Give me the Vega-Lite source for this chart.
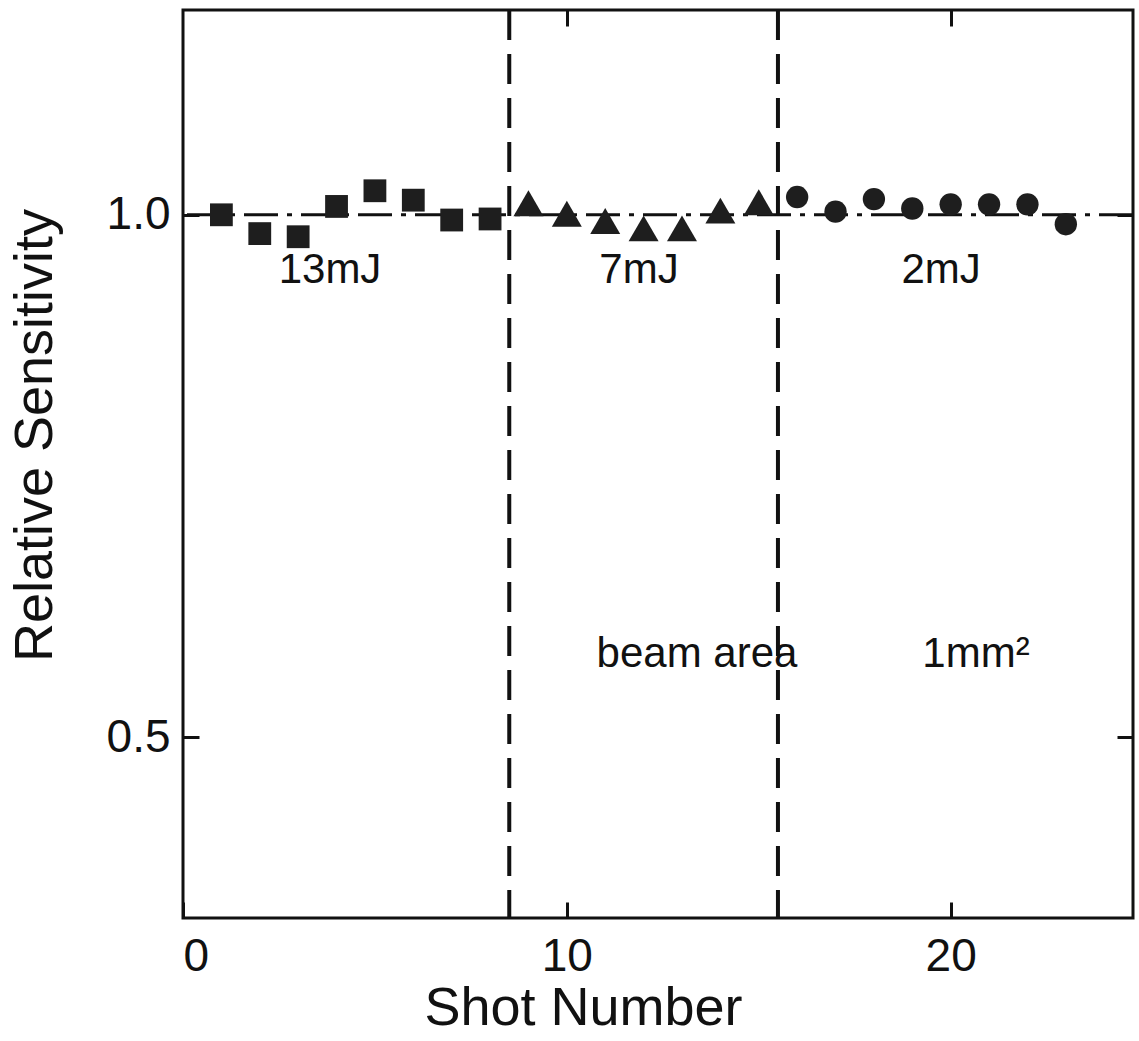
{
  "$schema": "https://vega.github.io/schema/vega-lite/v6.json",
  "width": 950,
  "height": 908,
  "autosize": {"type": "none"},
  "padding": {"left": 183, "top": 10, "right": 6, "bottom": 123},
  "background": "white",
  "config": {
    "view": {"stroke": "#111", "strokeWidth": 3},
    "font": "Liberation Sans",
    "axis": {"domain": false, "grid": false, "tickColor": "#111", "tickWidth": 3, "labelColor": "#111", "titleColor": "#111", "labelFont": "Liberation Sans", "titleFont": "Liberation Sans", "titleFontWeight": "normal"}
  },
  "datasets": {
    "pts": [
      {"shot": 1, "sens": 1.000, "energy": "13mJ"},
      {"shot": 2, "sens": 0.982, "energy": "13mJ"},
      {"shot": 3, "sens": 0.979, "energy": "13mJ"},
      {"shot": 4, "sens": 1.008, "energy": "13mJ"},
      {"shot": 5, "sens": 1.023, "energy": "13mJ"},
      {"shot": 6, "sens": 1.014, "energy": "13mJ"},
      {"shot": 7, "sens": 0.995, "energy": "13mJ"},
      {"shot": 8, "sens": 0.996, "energy": "13mJ"},
      {"shot": 9, "sens": 1.011, "energy": "7mJ"},
      {"shot": 10, "sens": 1.001, "energy": "7mJ"},
      {"shot": 11, "sens": 0.994, "energy": "7mJ"},
      {"shot": 12, "sens": 0.987, "energy": "7mJ"},
      {"shot": 13, "sens": 0.987, "energy": "7mJ"},
      {"shot": 14, "sens": 1.004, "energy": "7mJ"},
      {"shot": 15, "sens": 1.012, "energy": "7mJ"},
      {"shot": 16, "sens": 1.017, "energy": "2mJ"},
      {"shot": 17, "sens": 1.003, "energy": "2mJ"},
      {"shot": 18, "sens": 1.015, "energy": "2mJ"},
      {"shot": 19, "sens": 1.006, "energy": "2mJ"},
      {"shot": 20, "sens": 1.010, "energy": "2mJ"},
      {"shot": 21, "sens": 1.010, "energy": "2mJ"},
      {"shot": 22, "sens": 1.010, "energy": "2mJ"},
      {"shot": 23, "sens": 0.991, "energy": "2mJ"}
    ],
    "ref": [{"sens": 1.0}],
    "bounds": [{"shot": 8.5}, {"shot": 15.5}],
    "labels": [
      {"shot": 3.83, "sens": 0.947, "label": "13mJ"},
      {"shot": 11.88, "sens": 0.947, "label": "7mJ"},
      {"shot": 19.75, "sens": 0.947, "label": "2mJ"},
      {"shot": 13.39, "sens": 0.58, "label": "beam area"},
      {"shot": 20.66, "sens": 0.58, "label": "1mm²"}
    ]
  },
  "layer": [
    {
      "data": {"name": "ref"},
      "mark": {"type": "rule", "color": "#111", "strokeWidth": 3, "strokeDash": [34, 9, 5, 9]},
      "encoding": {
        "y": {"field": "sens", "type": "quantitative", "scale": {"domain": [0.327, 1.196], "nice": false, "zero": false},
          "axis": {"orient": "left", "values": [0.5, 1.0], "format": ".1f", "tickSize": -16, "labelFontSize": 46, "labelPadding": 29,
            "title": "Relative Sensitivity", "titleFontSize": 54, "titlePadding": 44, "titleY": 425, "titleAlign": "center"}}
      }
    },
    {
      "data": {"name": "bounds"},
      "mark": {"type": "rule", "color": "#111", "strokeWidth": 4, "strokeDash": [30, 14]},
      "encoding": {
        "x": {"field": "shot", "type": "quantitative", "scale": {"domain": [0, 24.75], "nice": false, "zero": false},
          "axis": {"orient": "bottom", "values": [0, 10, 20], "tickSize": -16, "labelFontSize": 46, "labelPadding": 32,
            "title": "Shot Number", "titleFontSize": 54, "titlePadding": 2, "titleX": 400, "titleAlign": "center"}}
      }
    },
    {
      "data": {"name": "pts"},
      "transform": [{"filter": "datum.energy === '13mJ'"}],
      "mark": {"type": "point", "shape": "square", "size": 520, "filled": true, "opacity": 1, "color": "#1e1e1e"},
      "encoding": {
        "x": {"field": "shot", "type": "quantitative", "axis": {"orient": "top", "values": [10, 20], "tickSize": -16, "labels": false, "title": null}},
        "y": {"field": "sens", "type": "quantitative", "axis": {"orient": "right", "values": [0.5, 1.0], "tickSize": -16, "labels": false, "title": null}}
      }
    },
    {
      "data": {"name": "pts"},
      "transform": [{"filter": "datum.energy === '7mJ'"}],
      "mark": {"type": "point", "shape": "triangle-up", "size": 900, "filled": true, "opacity": 1, "color": "#1e1e1e"},
      "encoding": {
        "x": {"field": "shot", "type": "quantitative", "axis": null},
        "y": {"field": "sens", "type": "quantitative", "axis": null}
      }
    },
    {
      "data": {"name": "pts"},
      "transform": [{"filter": "datum.energy === '2mJ'"}],
      "mark": {"type": "point", "shape": "circle", "size": 500, "filled": true, "opacity": 1, "color": "#1e1e1e"},
      "encoding": {
        "x": {"field": "shot", "type": "quantitative", "axis": null},
        "y": {"field": "sens", "type": "quantitative", "axis": null}
      }
    },
    {
      "data": {"name": "labels"},
      "mark": {"type": "text", "fontSize": 42, "font": "Liberation Sans", "color": "#111", "align": "center", "baseline": "middle"},
      "encoding": {
        "x": {"field": "shot", "type": "quantitative", "axis": null},
        "y": {"field": "sens", "type": "quantitative", "axis": null},
        "text": {"field": "label"}
      }
    }
  ],
  "resolve": {"axis": {"x": "independent", "y": "independent"}}
}
